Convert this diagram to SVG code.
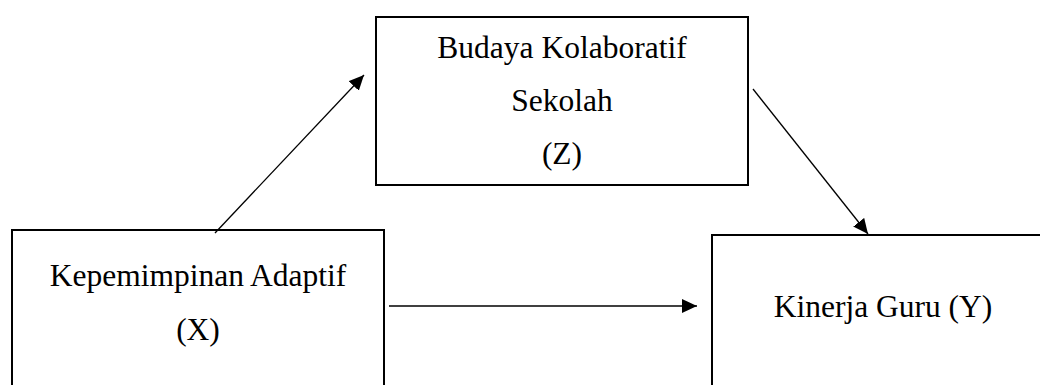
<svg xmlns="http://www.w3.org/2000/svg" width="1040" height="385" viewBox="0 0 1040 385">
  <style>
    .box { fill: #ffffff; stroke: #000000; stroke-width: 2; }
    .lbl { font-family: "Liberation Serif", "Times New Roman", serif; font-size: 31.5px; fill: #000000; text-anchor: middle; }
    .edge { stroke: #000000; stroke-width: 1.3; fill: none; marker-end: url(#arrow); }
  </style>
  <defs>
    <marker id="arrow" viewBox="0 0 15 14" refX="15" refY="7" markerWidth="15" markerHeight="14" markerUnits="userSpaceOnUse" orient="auto">
      <path d="M0,0 L15,7 L0,14 Z" fill="#000000"/>
    </marker>
  </defs>
  <rect width="1040" height="385" fill="#ffffff"/>

  <g id="node-z">
    <rect class="box" x="376" y="17" width="372" height="168"/>
    <text class="lbl" x="562" y="58">Budaya Kolaboratif</text>
    <text class="lbl" x="562" y="111">Sekolah</text>
    <text class="lbl" x="562" y="164">(Z)</text>
  </g>

  <g id="node-x">
    <rect class="box" x="12" y="230" width="372" height="170"/>
    <text class="lbl" x="198" y="286">Kepemimpinan Adaptif</text>
    <text class="lbl" x="198" y="340">(X)</text>
  </g>

  <g id="node-y">
    <rect class="box" x="712" y="235" width="340" height="170"/>
    <text class="lbl" x="883" y="317">Kinerja Guru (Y)</text>
  </g>

  <g id="connectors">
    <line class="edge" x1="215" y1="233" x2="364" y2="75"/>
    <line class="edge" x1="753" y1="89" x2="868" y2="234"/>
    <line class="edge" x1="389" y1="306" x2="697" y2="306"/>
  </g>
</svg>
